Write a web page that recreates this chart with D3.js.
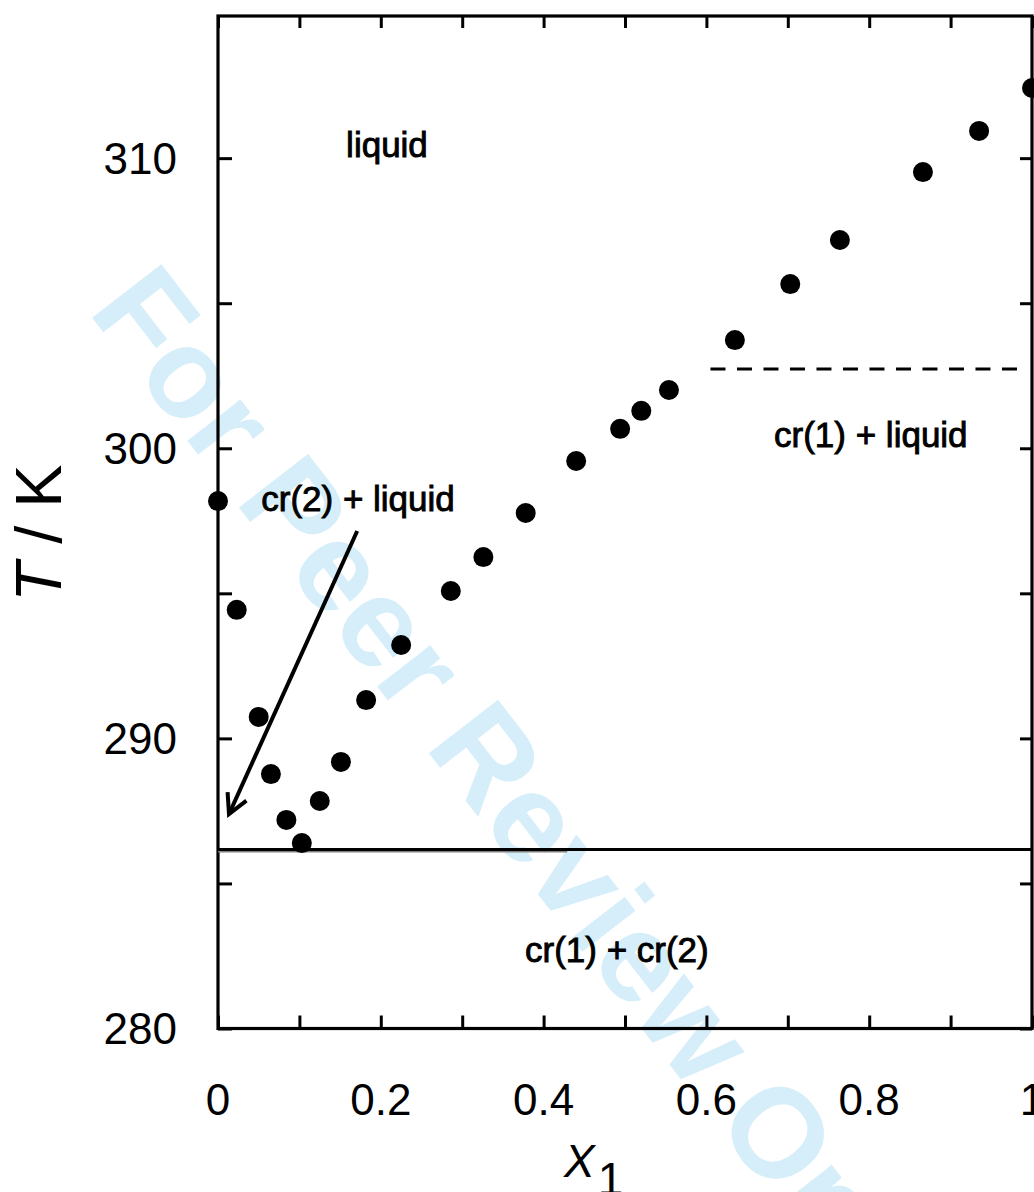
<!DOCTYPE html>
<html>
<head>
<meta charset="utf-8">
<script src="https://cdn.jsdelivr.net/npm/d3@7"></script>
<style>
  html, body { margin: 0; padding: 0; background: #fff; }
  svg { display: block; }
  text { font-family: "Liberation Sans", Arial, Helvetica, sans-serif; }
</style>
</head>
<body>
<script>
// ---- data ----
const xData = [0, 0.023, 0.050, 0.065, 0.084, 0.103, 0.125, 0.151, 0.182, 0.225, 0.286, 0.326,
               0.378, 0.440, 0.494, 0.520, 0.554, 0.635, 0.703, 0.764, 0.866, 0.935, 1.0];
const tData = [298.18, 294.43, 290.74, 288.77, 287.19, 286.39, 287.84, 289.19, 291.32, 293.22, 295.08, 296.25,
               297.77, 299.56, 300.67, 301.29, 302.01, 303.73, 305.66, 307.18, 309.52, 310.94, 312.42];

const xTickValues = [0, 0.1, 0.2, 0.3, 0.4, 0.5, 0.6, 0.7, 0.8, 0.9, 1];
const xTickLabels = ["0", "0.2", "0.4", "0.6", "0.8", "1"];
const xLabelValues = [0, 0.2, 0.4, 0.6, 0.8, 1];
const yTickValues = [280, 285, 290, 295, 300, 305, 310];
const yLabelValues = [280, 290, 300, 310];

const eutecticX = [0, 1];
const eutecticT = 286.17;
const dashX = [0.605, 0.987];
const dashT = 302.73;
const arrowX = [0.171, 0.0135];
const arrowT = [297.15, 287.39];

const regionNames = ["liquid", "cr(2) + liquid", "cr(1) + liquid", "cr(1) + cr(2)"];
const regionX = [0.2076, 0.172, 0.802, 0.490];
const regionT = [310.04, 297.84, 300.04, 282.29];

const watermarkText = "For Peer Review Only";

// ---- layout ----
const W = 1034, H = 1192;
const mLeft = 218, mRight = 1032, mTop = 16, mBottom = 1028.5;

const svg = d3.select("body").append("svg").attr("width", W).attr("height", H);
svg.append("rect").attr("width", W).attr("height", H).attr("fill", "#fff");

const x = d3.scaleLinear().domain([0, 1]).range([mLeft, mRight]);
const y = d3.scaleLinear().domain([280, 314.9]).range([mBottom, mTop]);

// watermark (beneath everything)
svg.append("text")
  .attr("transform", "translate(87,311) rotate(52.3)")
  .attr("font-size", 127)
  .attr("font-weight", "bold")
  .attr("fill", "#d5eefa")
  .text(watermarkText);

// axes: ticks inward on all four sides
const tickStyle = g => {
  g.select(".domain").remove();
  g.selectAll(".tick line").attr("stroke", "#000").attr("stroke-width", 3);
  g.selectAll(".tick text").remove();
};
svg.append("g").attr("transform", `translate(0,${mBottom})`)
  .call(d3.axisBottom(x).tickValues(xTickValues).tickSizeInner(-13).tickSizeOuter(0)).call(tickStyle);
svg.append("g").attr("transform", `translate(0,${mTop})`)
  .call(d3.axisTop(x).tickValues(xTickValues).tickSizeInner(-12).tickSizeOuter(0)).call(tickStyle);
svg.append("g").attr("transform", `translate(${mLeft},0)`)
  .call(d3.axisLeft(y).tickValues(yTickValues).tickSizeInner(-14).tickSizeOuter(0)).call(tickStyle);
svg.append("g").attr("transform", `translate(${mRight},0)`)
  .call(d3.axisRight(y).tickValues(yTickValues).tickSizeInner(-12).tickSizeOuter(0)).call(tickStyle);

// frame
svg.append("rect")
  .attr("x", mLeft).attr("y", mTop)
  .attr("width", mRight - mLeft).attr("height", mBottom - mTop)
  .attr("fill", "none").attr("stroke", "#000").attr("stroke-width", 3.2);

// tick labels
svg.append("g").selectAll("text").data(yLabelValues).join("text")
  .attr("x", 177).attr("y", d => y(d)).attr("dy", "0.36em")
  .attr("text-anchor", "end").attr("font-size", 44).attr("fill", "#000")
  .text(d => d);
svg.append("g").selectAll("text").data(xLabelValues).join("text")
  .attr("x", d => x(d)).attr("y", 1115)
  .attr("text-anchor", "middle").attr("font-size", 44).attr("fill", "#000")
  .text((d, i) => xTickLabels[i]);

// axis titles
const yt = svg.append("text")
  .attr("transform", "translate(61,533) rotate(-90)")
  .attr("text-anchor", "middle").attr("font-size", 65).attr("fill", "#000");
yt.append("tspan").attr("font-style", "italic").text("T");
yt.append("tspan").text(" / K");

const xt = svg.append("text").attr("x", 564).attr("y", 1177).attr("font-size", 46).attr("fill", "#000");
xt.append("tspan").attr("font-style", "italic").text("X");
xt.append("tspan").attr("dx", 3).attr("dy", 18).text("1");

// eutectic line (grey shadow on left part, as in reference)
svg.append("line")
  .attr("x1", x(0)).attr("x2", x(0.429))
  .attr("y1", y(eutecticT) + 1.5).attr("y2", y(eutecticT) + 1.5)
  .attr("stroke", "#808080").attr("stroke-width", 3);
svg.append("line")
  .attr("x1", x(eutecticX[0])).attr("x2", x(eutecticX[1]))
  .attr("y1", y(eutecticT)).attr("y2", y(eutecticT))
  .attr("stroke", "#000").attr("stroke-width", 3);

// dashed line
svg.append("line")
  .attr("x1", x(dashX[0])).attr("x2", x(dashX[1]))
  .attr("y1", y(dashT)).attr("y2", y(dashT))
  .attr("stroke", "#000").attr("stroke-width", 3)
  .attr("stroke-dasharray", "15,11.5");

// arrow
const ax1 = x(arrowX[0]), ay1 = y(arrowT[0]), ax2 = x(arrowX[1]), ay2 = y(arrowT[1]);
svg.append("line").attr("x1", ax1).attr("y1", ay1).attr("x2", ax2).attr("y2", ay2)
  .attr("stroke", "#000").attr("stroke-width", 4);
const ang = Math.atan2(ay1 - ay2, ax1 - ax2);
const headLen = 22, headAng = 28 * Math.PI / 180;
const headPts = [
  [ax2 + headLen * Math.cos(ang + headAng), ay2 + headLen * Math.sin(ang + headAng)],
  [ax2, ay2],
  [ax2 + headLen * Math.cos(ang - headAng), ay2 + headLen * Math.sin(ang - headAng)]
];
svg.append("path").attr("d", d3.line()(headPts))
  .attr("fill", "none").attr("stroke", "#000").attr("stroke-width", 4)
  .attr("stroke-linejoin", "miter");

// data points
svg.append("g").selectAll("circle").data(xData).join("circle")
  .attr("cx", (d, i) => x(d)).attr("cy", (d, i) => y(tData[i]))
  .attr("r", 10).attr("fill", "#000");

// region labels
svg.append("g").selectAll("text").data(regionNames).join("text")
  .attr("x", (d, i) => x(regionX[i])).attr("y", (d, i) => y(regionT[i]))
  .attr("text-anchor", "middle").attr("font-size", 35)
  .attr("fill", "#000").attr("stroke", "#000").attr("stroke-width", 0.9)
  .text(d => d);
</script>
</body>
</html>
